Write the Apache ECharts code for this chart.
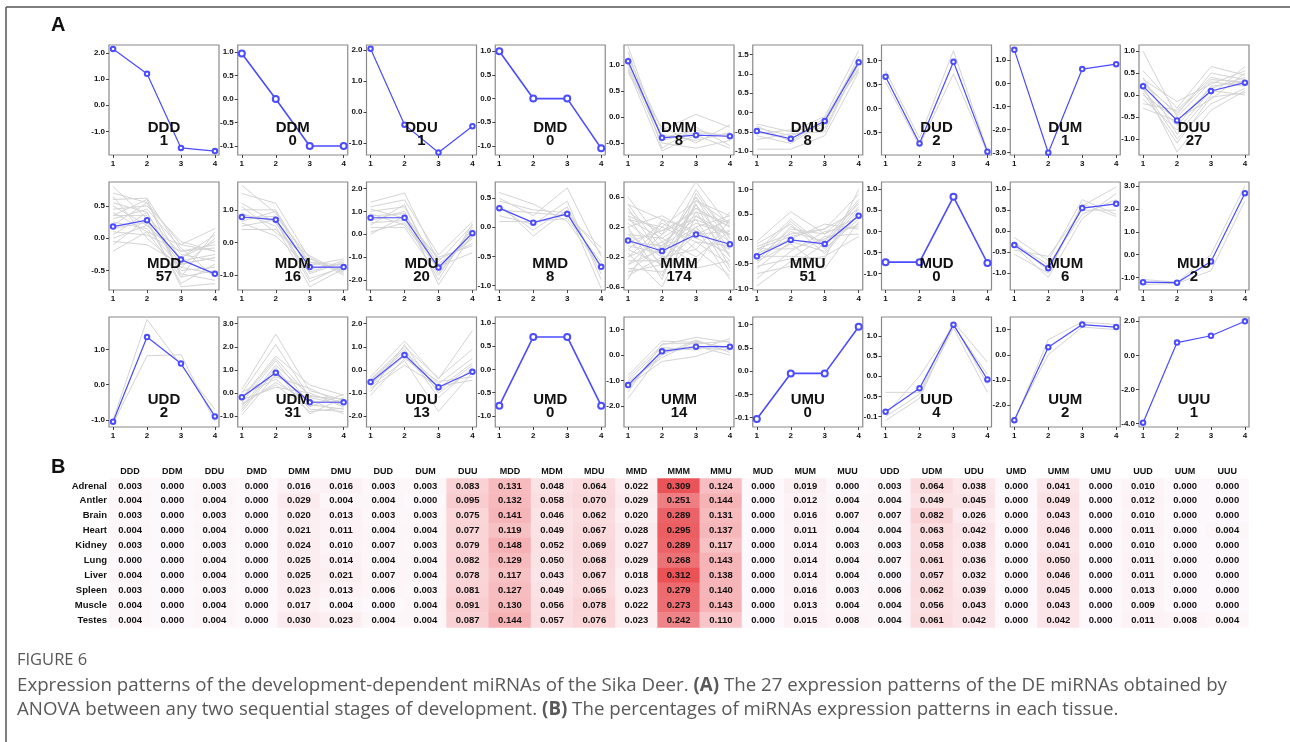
<!DOCTYPE html>
<html><head><meta charset="utf-8">
<script src="https://cdn.jsdelivr.net/npm/echarts@6/dist/echarts.min.js"></script>
<style>html,body{margin:0;padding:0;background:#fff}#c{width:1290px;height:742px}</style>
</head><body><div id="c"></div>
<script>
// ---------- Panel A data ----------
const patterns = ['DDD','DDM','DDU','DMD','DMM','DMU','DUD','DUM','DUU',
                  'MDD','MDM','MDU','MMD','MMM','MMU','MUD','MUM','MUU',
                  'UDD','UDM','UDU','UMD','UMM','UMU','UUD','UUM','UUU'];
const counts = [1,0,1,0,8,8,2,1,27, 57,16,20,8,174,51,0,6,2, 2,31,13,0,14,0,4,2,1];
const stages = [1,2,3,4];

// centroid (blue) profiles
const centers = [
  [2.15,1.2,-1.63,-1.75],[0.97,0.0,-1.0,-1.0],[2.05,-0.4,-1.3,-0.45],[1.0,0.0,0.0,-1.05],
  [1.07,-0.4,-0.35,-0.37],[-0.48,-0.68,-0.22,1.3],[0.66,-0.73,0.97,-0.9],[1.45,-3.0,0.62,0.83],
  [0.2,-0.58,0.09,0.28],
  [0.18,0.28,-0.33,-0.55],[0.78,0.7,-0.75,-0.75],[0.72,0.72,-1.45,0.05],[0.33,0.08,0.23,-0.68],
  [0.02,-0.12,0.1,-0.03],[-0.35,-0.02,-0.1,0.47],[-0.73,-0.73,0.82,-0.75],[-0.33,-0.88,0.55,0.65],
  [-1.2,-1.22,-0.3,2.68],
  [-1.05,1.35,0.6,-0.9],[-0.18,0.88,-0.4,-0.4],[-0.52,0.65,-0.75,-0.08],[-0.78,0.7,0.7,-0.78],
  [-1.18,0.15,0.33,0.33],[-1.03,-0.05,-0.05,0.95],[-0.88,-0.3,1.28,-0.08],[-2.6,0.3,1.2,1.1],
  [-3.95,0.75,1.15,2.0]
];

// individual miRNA profiles (grey), read approximately
const grey_DMM = [[1.35,-0.45,-0.3,-0.35],[1.25,-0.6,-0.2,-0.55],[1.15,-0.25,0.05,-0.2],[1.05,-0.35,-0.45,-0.3],
  [0.95,-0.5,-0.6,-0.45],[0.9,-0.65,-0.35,-0.6],[0.85,-0.2,-0.5,-0.15],[1.0,-0.4,-0.25,-0.4]];
const grey_DMU = [[-0.3,-0.5,-0.1,1.6],[-0.4,-0.6,-0.3,1.45],[-0.5,-0.7,-0.15,1.35],[-0.55,-0.45,-0.4,1.25],
  [-0.6,-0.8,-0.25,1.15],[-0.95,-0.95,-0.6,1.05],[-0.35,-0.75,-0.2,1.1],[-0.7,-0.55,-0.5,1.3]];
const grey_DUD = [[0.78,-0.62,1.2,-0.88],[0.55,-0.78,0.72,-0.93]];
const grey_DUU = [[1.0,-0.5,0.3,0.2],[0.55,-0.3,0.65,0.45],[0.4,-0.9,0.0,0.65],[0.3,-0.45,0.5,0.35],
  [0.2,-1.3,-0.35,0.1],[0.1,-0.7,0.2,0.3],[0.0,-0.55,-0.1,0.5],[-0.1,-0.8,0.1,0.0],[-0.2,-0.35,0.4,0.25],
  [0.15,-1.0,-0.2,0.15],[-0.3,-0.6,0.15,0.4],[0.35,-0.15,0.25,0.55],[0.05,-1.1,-0.05,0.05],[0.25,-0.4,0.35,0.3]];
const grey_MDD = [[0.8,0.3,-0.4,-0.3],[0.7,0.55,-0.1,0.15],[0.6,0.62,-0.2,-0.1],[0.55,0.4,-0.5,-0.45],
  [0.5,0.2,-0.3,0.05],[0.45,0.5,-0.05,-0.2],[0.4,0.1,-0.6,-0.5],[0.35,0.35,-0.25,-0.35],[0.3,0.45,-0.15,-0.6],
  [0.25,0.15,-0.45,0.0],[0.2,0.55,-0.35,-0.25],[0.15,0.25,-0.7,-0.4],[0.1,0.05,-0.2,-0.15],[0.05,0.4,-0.55,-0.65],
  [0.0,0.2,-0.3,-0.05],[-0.05,-0.1,-0.4,-0.3],[-0.1,0.3,-0.75,-0.7],[-0.2,0.1,-0.1,-0.2],[0.65,0.0,-0.45,-0.55],
  [0.35,0.6,-0.6,0.1]];
const grey_MDM = [[1.75,0.9,-0.6,-0.7],[1.5,1.2,-0.5,-0.9],[1.2,0.6,-0.95,-0.6],[1.0,1.0,-0.7,-0.5],
  [0.9,0.5,-1.35,-0.8],[0.75,0.8,-0.45,-1.0],[0.6,0.2,-0.8,-0.65],[0.5,0.7,-1.1,-0.75],[0.4,0.4,-0.6,-0.85],
  [0.65,0.95,-0.9,-0.55],[1.1,0.3,-0.4,-0.95],[0.85,0.65,-1.2,-0.7]];
const grey_MDU = [[1.4,1.8,-1.2,0.4],[1.2,1.5,-0.9,0.55],[1.0,1.2,-1.6,0.2],[0.8,0.9,-1.3,-0.2],
  [0.6,1.0,-2.2,0.0],[0.5,0.6,-1.0,-0.5],[0.3,0.3,-1.8,0.3],[0.1,0.5,-1.4,-0.8],[0.0,0.8,-1.1,-0.4],
  [0.4,1.3,-1.7,0.1],[0.9,0.4,-1.5,-0.1],[1.1,0.7,-2.0,0.45]];
const grey_MMD = [[0.6,0.4,0.1,-0.7],[0.5,0.2,0.68,-0.5],[0.4,-0.15,0.3,-1.05],[0.3,0.25,0.2,-0.35],
  [0.2,0.05,0.45,-0.9],[0.1,0.1,0.15,-0.6],[0.35,-0.05,0.35,-0.8],[0.45,0.3,0.25,-0.45]];
const grey_MMM = [[0.6,0.0,0.3,0.1],[0.5,0.3,-0.1,0.4],[0.45,-0.2,0.5,-0.1],[0.4,0.1,0.8,0.2],
  [0.35,-0.35,0.2,0.35],[0.3,0.2,0.0,-0.3],[0.25,-0.1,0.6,0.0],[0.2,0.35,0.1,0.3],[0.15,-0.3,0.4,-0.2],
  [0.1,0.05,-0.2,0.15],[0.05,-0.45,0.55,0.25],[0.0,0.15,0.3,-0.4],[-0.05,-0.15,0.7,0.05],[-0.1,0.25,0.05,-0.15],
  [-0.15,-0.6,0.35,0.1],[-0.2,0.0,-0.3,0.3],[-0.25,-0.25,0.2,-0.5],[-0.3,0.1,0.45,0.2],[-0.35,-0.4,0.0,-0.05],
  [-0.4,-0.05,0.25,0.1],[-0.45,-0.2,-0.35,-0.25],[-0.5,0.3,0.15,-0.1],[0.2,-0.5,0.65,0.05],[-0.1,-0.3,0.5,-0.35],
  [0.35,0.15,0.4,0.25],[-0.3,-0.1,0.6,-0.2],[0.5,-0.1,0.2,-0.25],[-0.2,0.2,0.55,0.35],[0.1,-0.2,-0.1,-0.45],
  [0.3,0.05,0.35,0.0],[-0.4,-0.3,0.1,0.15],[0.0,-0.05,0.45,0.2]];
const grey_MMU = [[-0.05,0.55,0.1,0.7],[-0.1,0.3,-0.3,0.5],[-0.15,0.1,0.2,0.9],[-0.2,-0.2,0.0,0.3],
  [-0.25,0.4,-0.15,0.6],[-0.3,0.0,0.3,0.2],[-0.35,-0.35,-0.4,1.0],[-0.4,0.2,0.1,0.45],[-0.45,-0.1,-0.6,0.35],
  [-0.5,0.15,-0.05,0.8],[-0.55,-0.4,0.05,0.1],[-0.6,-0.05,-0.25,0.55],[-0.7,-0.55,-0.1,0.65],[-0.8,-0.25,0.15,0.25],
  [-0.95,-0.45,-0.35,0.05],[-0.3,0.35,-0.2,0.4],[-0.2,0.05,0.2,0.6],[-0.45,0.25,-0.1,0.75]];
const grey_MUM = [[-0.15,-0.7,0.75,0.4],[-0.25,-0.95,0.6,1.05],[-0.35,-1.1,0.3,0.9],[-0.45,-0.6,0.5,0.5],
  [-0.55,-1.0,0.65,0.35],[-0.3,-0.8,0.4,0.75]];
const grey_MUU = [[-1.08,-1.2,0.0,3.0],[-1.3,-1.25,-0.7,2.35]];
const grey_UDD = [[-1.0,1.85,0.55,-0.7],[-1.1,0.82,0.85,-1.05]];
const grey_UDM = [[0.15,2.55,0.1,-0.3],[0.0,2.1,-0.2,-0.5],[-0.2,1.6,0.35,-0.1],[-0.4,1.4,-0.5,-0.7],
  [-0.6,1.2,-0.1,-0.4],[-0.8,1.0,-0.9,-0.2],[-0.95,0.8,-0.3,-0.9],[-0.1,0.6,-0.6,-0.05],[-0.3,0.25,0.0,-0.6],
  [-0.5,0.45,-0.4,-0.35],[-0.7,1.1,-0.7,-0.8],[0.05,0.7,0.2,-0.5],[-0.25,1.5,-0.15,-0.25],[-0.45,0.35,-0.8,-0.65]];
const grey_UDU = [[-0.3,1.25,-0.4,1.7],[-0.4,1.0,-0.35,0.9],[-0.5,0.8,-0.6,0.5],[-0.6,0.6,-0.9,0.2],
  [-0.7,0.4,-1.8,-0.1],[-0.8,0.2,-0.7,-0.45],[-0.95,1.1,-1.0,0.0],[-1.1,0.5,-0.5,-0.3],[-0.45,0.9,-1.2,0.1],
  [-0.65,0.7,-0.8,0.3]];
const grey_UMM = [[-0.8,0.55,0.5,0.3],[-0.9,0.4,0.7,0.5],[-1.0,0.3,0.2,0.65],[-1.1,0.0,0.6,0.1],
  [-1.2,-0.25,-0.05,0.4],[-1.3,0.2,0.35,0.0],[-1.45,0.45,0.45,0.55],[-1.7,0.1,0.3,0.2],[-1.05,-0.1,0.55,0.25]];
const grey_UUD = [[-0.4,-0.4,1.35,0.35],[-1.0,-0.45,1.2,-0.4],[-1.1,-0.55,1.3,-0.2],[-0.95,0.0,1.25,0.05]];
const grey_UUM = [[-2.65,0.6,1.3,1.2],[-2.55,0.0,1.1,1.0]];

const greyLines = [[],[],[],[],grey_DMM,grey_DMU,grey_DUD,[],grey_DUU,
  grey_MDD,grey_MDM,grey_MDU,grey_MMD,grey_MMM,grey_MMU,[],grey_MUM,grey_MUU,
  grey_UDD,grey_UDM,grey_UDU,[],grey_UMM,[],grey_UUD,grey_UUM,[]];

// y tick positions and their printed labels
const yTickValues = [
  [2,1,0,-1],[1,0.5,0,-0.5,-1],[2,1,0,-1],[1,0.5,0,-0.5,-1],[1,0.5,0,-0.5],[1.5,1,0.5,0,-0.5,-1],
  [1,0.5,0,-0.5],[1,0,-1,-2,-3],[1,0.5,0,-0.5,-1],
  [0.5,0,-0.5],[1,0,-1],[2,1,0,-1,-2],[0.5,0,-0.5,-1],[0.6,0.2,-0.2,-0.6],[1,0.5,0,-0.5,-1],
  [1,0.5,0,-0.5,-1],[1,0.5,0,-0.5,-1],[3,2,1,0,-1],
  [1,0,-1],[3,2,1,0,-1],[2,1,0,-1,-2],[1,0.5,0,-0.5,-1],[1,0,-1,-2],[1,0.5,0,-0.5,-1],
  [1,0.5,0,-0.5,-1],[1,0,-1,-2],[2,0,-2,-4]
];
const yTickLabels = [
  ['2.0','1.0','0.0','-1.0'],['1.0','0.5','0.0','-0.5','-0.1'],['2.0','1.0','0.0','-1.0'],
  ['1.0','0.5','0.0','-0.5','-1.0'],['1.0','0.5','0.0','-0.5'],['1.5','1.0','0.5','0.0','-0.5','-1.0'],
  ['1.0','0.5','0.0','-0.5'],['1.0','0.0','-1.0','-2.0','-3.0'],['1.0','0.5','0.0','-0.5','-1.0'],
  ['0.5','0.0','-0.5'],['1.0','0.0','-1.0'],['2.0','1.0','0.0','-1.0','-2.0'],['0.5','0.0','-0.5','-1.0'],
  ['0.6','0.2','-0.2','-0.6'],['1.0','0.5','0.0','-0.5','-1.0'],['1.0','0.5','0.0','-0.5','-1.0'],
  ['1.0','0.5','0.0','-0.5','-1.0'],['3.0','2.0','1.0','0.0','-1.0'],
  ['1.0','0.0','-1.0'],['3.0','2.0','1.0','0.0','-1.0'],['2.0','1.0','0.0','-1.0','-2.0'],
  ['1.0','0.5','0.0','-0.5','-1.0'],['1.0','0.0','-1.0','-2.0'],['1.0','0.5','0.0','-0.5','-0.1'],
  ['1.0','0.5','0.0','-0.5','-0.1'],['1.0','0.0','-1.0','-2.0'],['2.0','0.0','-2.0','-4.0']
];
// axis extents of each small panel
const yMin = [-1.9,-1.19,-1.38,-1.19,-0.73,-1.1,-0.97,-3.1,-1.37,
              -0.8,-1.45,-2.43,-1.08,-0.64,-1.03,-1.39,-1.4,-1.54,
              -1.2,-1.47,-2.47,-1.24,-2.83,-1.2,-1.26,-2.87,-4.2];
const yMax = [2.3,1.15,2.17,1.13,1.38,1.75,1.32,1.66,1.14,
              0.87,1.85,2.28,0.78,0.8,1.15,1.17,1.17,3.17,
              1.92,3.29,2.29,1.13,1.5,1.16,1.47,1.5,2.25];

// ---------- Panel B data ----------
const tissues = ['Adrenal','Antler','Brain','Heart','Kidney','Lung','Liver','Spleen','Muscle','Testes'];
const pAdrenal = [0.003,0.000,0.003,0.000,0.016,0.016,0.003,0.003,0.083,0.131,0.048,0.064,0.022,0.309,0.124,0.000,0.019,0.000,0.003,0.064,0.038,0.000,0.041,0.000,0.010,0.000,0.000];
const pAntler  = [0.004,0.000,0.004,0.000,0.029,0.004,0.004,0.000,0.095,0.132,0.058,0.070,0.029,0.251,0.144,0.000,0.012,0.004,0.004,0.049,0.045,0.000,0.049,0.000,0.012,0.000,0.000];
const pBrain   = [0.003,0.000,0.003,0.000,0.020,0.013,0.003,0.003,0.075,0.141,0.046,0.062,0.020,0.289,0.131,0.000,0.016,0.007,0.007,0.082,0.026,0.000,0.043,0.000,0.010,0.000,0.000];
const pHeart   = [0.004,0.000,0.004,0.000,0.021,0.011,0.004,0.004,0.077,0.119,0.049,0.067,0.028,0.295,0.137,0.000,0.011,0.004,0.004,0.063,0.042,0.000,0.046,0.000,0.011,0.000,0.004];
const pKidney  = [0.003,0.000,0.003,0.000,0.024,0.010,0.007,0.003,0.079,0.148,0.052,0.069,0.027,0.289,0.117,0.000,0.014,0.003,0.003,0.058,0.038,0.000,0.041,0.000,0.010,0.000,0.000];
const pLung    = [0.000,0.000,0.004,0.000,0.025,0.014,0.004,0.004,0.082,0.129,0.050,0.068,0.029,0.268,0.143,0.000,0.014,0.004,0.007,0.061,0.036,0.000,0.050,0.000,0.011,0.000,0.000];
const pLiver   = [0.004,0.000,0.004,0.000,0.025,0.021,0.007,0.004,0.078,0.117,0.043,0.067,0.018,0.312,0.138,0.000,0.014,0.004,0.000,0.057,0.032,0.000,0.046,0.000,0.011,0.000,0.000];
const pSpleen  = [0.003,0.000,0.003,0.000,0.023,0.013,0.006,0.003,0.081,0.127,0.049,0.065,0.023,0.279,0.140,0.000,0.016,0.003,0.006,0.062,0.039,0.000,0.045,0.000,0.013,0.000,0.000];
const pMuscle  = [0.004,0.000,0.004,0.000,0.017,0.004,0.000,0.004,0.091,0.130,0.056,0.078,0.022,0.273,0.143,0.000,0.013,0.004,0.004,0.056,0.043,0.000,0.043,0.000,0.009,0.000,0.000];
const pTestes  = [0.004,0.000,0.004,0.000,0.030,0.023,0.004,0.004,0.087,0.144,0.057,0.076,0.023,0.242,0.110,0.000,0.015,0.008,0.004,0.061,0.042,0.000,0.042,0.000,0.011,0.008,0.004];
const tissueRows = [pAdrenal,pAntler,pBrain,pHeart,pKidney,pLung,pLiver,pSpleen,pMuscle,pTestes];

// ---------- build ----------
const FONT = '"Liberation Sans", Arial, sans-serif';
const BLUE = '#4b4bff';
const colLeft = c => 109 + 128.75 * c;
const rowTop = [45, 182, 317];
const rowH = [110, 108, 110];
const boxW = 110;

const grids = [], xAxes = [], yAxes = [], series = [], graphics = [];

patterns.forEach((name, i) => {
  const r = Math.floor(i / 9), c = i % 9;
  const left = colLeft(c), top = rowTop[r], h = rowH[r];
  grids.push({left: left, top: top, width: boxW, height: h, show: true,
    borderColor: '#8a8a8a', borderWidth: 1.2, backgroundColor: 'transparent'});
  xAxes.push({type: 'value', gridIndex: i, min: 0.88, max: 4.12, position: 'bottom',
    axisLine: {show: false, onZero: false}, splitLine: {show: false},
    axisTick: {show: true, customValues: stages, length: 3, lineStyle: {color: '#444', width: 1}},
    axisLabel: {customValues: stages, formatter: v => String(v), fontFamily: FONT, fontWeight: 'bold',
      fontSize: 8, color: '#111', margin: 5}});
  const tv = yTickValues[i], tl = yTickLabels[i];
  yAxes.push({type: 'value', gridIndex: i, min: yMin[i], max: yMax[i], position: 'left',
    axisLine: {show: false, onZero: false}, splitLine: {show: false},
    axisTick: {show: true, customValues: tv, length: 3, lineStyle: {color: '#444', width: 1}},
    axisLabel: {customValues: tv, fontFamily: FONT, fontWeight: 'bold', fontSize: 8, color: '#111', margin: 4,
      formatter: v => { const k = tv.findIndex(t => Math.abs(t - v) < 1e-9); return k >= 0 ? tl[k] : ''; }}});
  greyLines[i].forEach(g => {
    series.push({type: 'line', xAxisIndex: i, yAxisIndex: i, silent: true, symbol: 'none',
      lineStyle: {color: '#d4d4d4', width: 1}, data: stages.map((s, k) => [s, g[k]]), z: 2, animation: false});
  });
  const zero = counts[i] === 0;
  series.push({type: 'line', xAxisIndex: i, yAxisIndex: i, silent: true,
    symbol: 'emptyCircle', symbolSize: zero ? 6 : 4.5,
    lineStyle: {color: BLUE, width: zero ? 1.6 : 1.2},
    itemStyle: {color: BLUE, borderColor: BLUE, borderWidth: zero ? 1.4 : 1},
    data: stages.map((s, k) => [s, centers[i][k]]), z: 5, animation: false});
  graphics.push({type: 'text', x: left + boxW / 2, y: top + h * 0.755,
    style: {text: name, fontFamily: FONT, fontWeight: 'bold', fontSize: 15, fill: '#111',
      textAlign: 'center', textVerticalAlign: 'middle'}, z: 10});
  graphics.push({type: 'text', x: left + boxW / 2, y: top + h * 0.875,
    style: {text: String(counts[i]), fontFamily: FONT, fontWeight: 'bold', fontSize: 15, fill: '#111',
      textAlign: 'center', textVerticalAlign: 'middle'}, z: 10});
});

// heatmap table
const HI = patterns.length;
grids.push({left: 109, top: 478.5, width: 1139.4, height: 149, show: false});
xAxes.push({type: 'category', gridIndex: HI, data: patterns, position: 'top',
  axisLine: {show: false}, axisTick: {show: false}, splitLine: {show: false},
  axisLabel: {fontFamily: FONT, fontWeight: 'bold', fontSize: 9, color: '#111', margin: 2, interval: 0}});
yAxes.push({type: 'category', gridIndex: HI, data: tissues, inverse: true,
  axisLine: {show: false}, axisTick: {show: false}, splitLine: {show: false},
  axisLabel: {fontFamily: FONT, fontWeight: 'bold', fontSize: 9.5, color: '#111', margin: 2, interval: 0}});
const heatData = [];
tissueRows.forEach((row, ri) => row.forEach((v, ci) => heatData.push([ci, ri, v])));
series.push({type: 'heatmap', xAxisIndex: HI, yAxisIndex: HI, data: heatData, silent: true, animation: false,
  label: {show: true, formatter: p => p.value[2].toFixed(3), fontFamily: FONT, fontWeight: 'bold',
    fontSize: 9.5, color: '#111'}});
const heatSeriesIndex = series.length - 1;

// letters, frame and caption
graphics.push({type: 'text', x: 51, y: 15, style: {text: 'A', fontFamily: FONT, fontWeight: 'bold', fontSize: 20, fill: '#111'}});
graphics.push({type: 'text', x: 51, y: 457, style: {text: 'B', fontFamily: FONT, fontWeight: 'bold', fontSize: 20, fill: '#111'}});
graphics.push({type: 'line', shape: {x1: 6, y1: 7, x2: 1290, y2: 7}, style: {stroke: '#555', lineWidth: 1.5}});
graphics.push({type: 'line', shape: {x1: 6, y1: 7, x2: 6, y2: 742}, style: {stroke: '#555', lineWidth: 1.5}});
const CAP = '"Open Sans", "Noto Sans", sans-serif';
const CAPSIZE = 18.7;
graphics.push({type: 'text', x: 17, y: 660, style: {text: 'FIGURE 6', fontFamily: CAP, fontSize: 16.5, fill: '#595959', textVerticalAlign: 'middle'}});
const capRich = {b: {fontFamily: CAP, fontWeight: 'bold', fontSize: CAPSIZE, fill: '#595959'}};
graphics.push({type: 'text', x: 17, y: 686, style: {
  text: 'Expression patterns of the development-dependent miRNAs of the Sika Deer. {b|(A)} The 27 expression patterns of the DE miRNAs obtained by',
  rich: capRich, fontFamily: CAP, fontSize: CAPSIZE, fill: '#595959', textVerticalAlign: 'middle'}});
graphics.push({type: 'text', x: 17, y: 710, style: {
  text: 'ANOVA between any two sequential stages of development. {b|(B)} The percentages of miRNAs expression patterns in each tissue.',
  rich: capRich, fontFamily: CAP, fontSize: CAPSIZE, fill: '#595959', textVerticalAlign: 'middle'}});

const chart = echarts.init(document.getElementById('c'), null, {renderer: 'canvas'});
chart.setOption({
  animation: false,
  backgroundColor: '#fff',
  grid: grids, xAxis: xAxes, yAxis: yAxes, series: series,
  visualMap: {show: false, min: 0, max: 0.312, dimension: 2, seriesIndex: heatSeriesIndex,
    inRange: {color: ['#fdf8fb', '#fad5d8', '#f5adb0', '#f08a8e', '#ea5256']}},
  graphic: graphics
});
</script></body></html>
